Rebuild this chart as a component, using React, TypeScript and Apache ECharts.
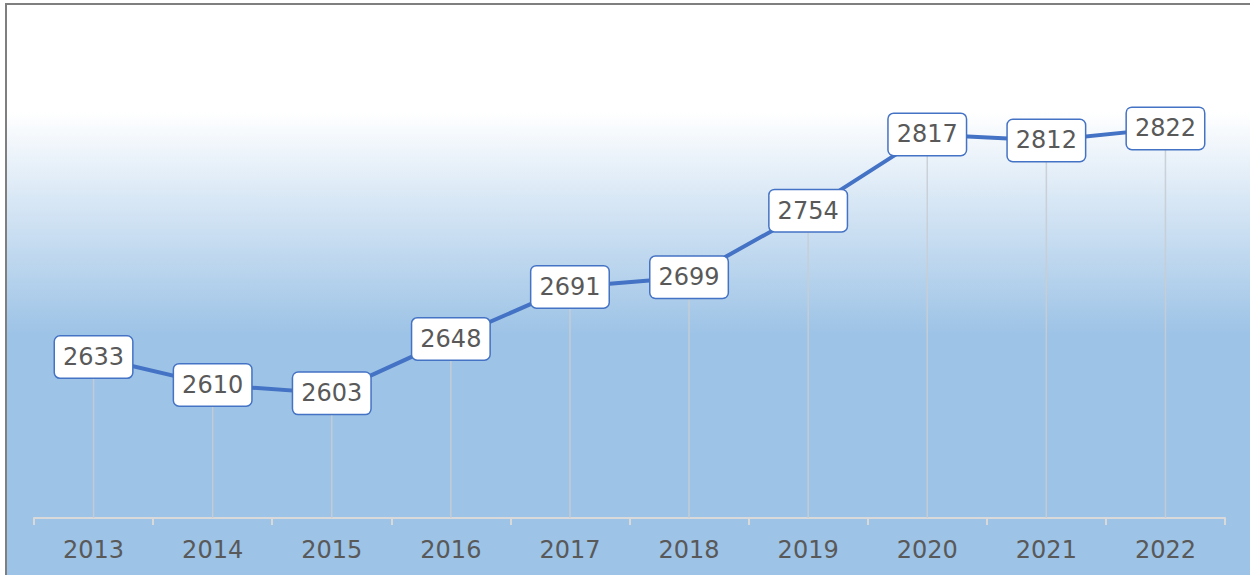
import React, { useEffect, useRef } from "react";
import * as echarts from "echarts";

const years = ["2013", "2014", "2015", "2016", "2017", "2018", "2019", "2020", "2021", "2022"];
const values = [2633, 2610, 2603, 2648, 2691, 2699, 2754, 2817, 2812, 2822];

export default function App() {
  const ref = useRef<HTMLDivElement>(null);
  useEffect(() => {
    document.body.style.margin = "0";
    const chart = echarts.init(ref.current!, undefined, { renderer: "svg" });
    chart.setOption({
      animation: false,
      graphic: [
        {
          type: "rect",
          z: -10,
          silent: true,
          shape: { x: 6, y: 4, width: 1260, height: 600 },
          style: {
            fill: new echarts.graphic.LinearGradient(0, 0, 0, 1, [
              { offset: 0, color: "#ffffff" },
              { offset: 0.18, color: "#ffffff" },
              { offset: 0.55, color: "#9dc3e6" },
              { offset: 1, color: "#9dc3e6" },
            ]),
            stroke: "#7f7f7f",
            lineWidth: 2,
          },
        },
      ],
      grid: { left: 34, right: 25, top: 34, bottom: 57 },
      xAxis: {
        type: "category",
        data: years,
        boundaryGap: true,
        axisLine: { lineStyle: { color: "#d9d9d9", width: 2 } },
        axisTick: { show: true, length: 7, lineStyle: { color: "#d9d9d9", width: 2 } },
        axisLabel: { color: "#595959", fontSize: 24, fontFamily: "DejaVu Sans", margin: 20 },
      },
      yAxis: {
        type: "value",
        min: 2500,
        max: 2900,
        show: false,
        splitLine: { show: false },
      },
      series: [
        {
          type: "bar",
          data: values,
          barWidth: 1.5,
          itemStyle: { color: "rgba(200,205,212,0.9)" },
          silent: true,
          z: 1,
        },
        {
          type: "line",
          data: values,
          symbol: "circle",
          symbolSize: 1,
          showSymbol: true,
          itemStyle: { color: "#4472c4" },
          lineStyle: { color: "#4472c4", width: 4 },
          z: 3,
          label: {
            show: true,
            position: "inside",
            color: "#595959",
            fontSize: 24,
            fontFamily: "DejaVu Sans",
            backgroundColor: "#ffffff",
            borderColor: "#4472c4",
            borderWidth: 1.5,
            borderRadius: 5,
            padding: [9, 8, 8, 8],
          },
        },
      ],
    });
    return () => chart.dispose();
  }, []);
  return <div ref={ref} style={{ width: 1250, height: 575 }} />;
}
